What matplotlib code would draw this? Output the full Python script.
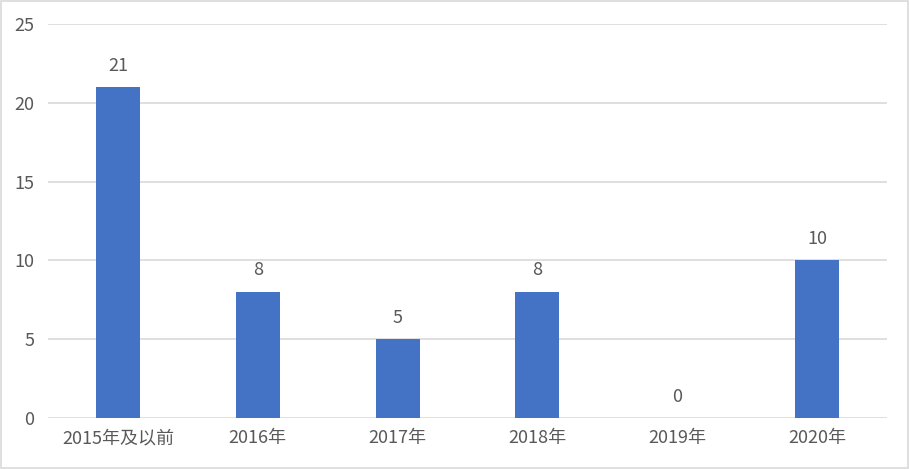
import matplotlib
matplotlib.use('Agg')
import matplotlib.pyplot as plt
from matplotlib.patches import Rectangle

plt.rcParams['font.family'] = ['Noto Sans CJK SC', 'DejaVu Sans']

categories = ['2015年及以前', '2016年', '2017年', '2018年', '2019年', '2020年']
counts = [21, 8, 5, 8, 0, 10]
yticks = [0, 5, 10, 15, 20, 25]

text_color = '#595959'
bar_color = '#4472C4'
grid_color = '#D9D9D9'

fig = plt.figure(figsize=(9.1, 4.69), dpi=100)
ax = fig.add_axes([48 / 910, 1 - 418 / 469, (887 - 48) / 910, (418 - 24) / 469])

x = range(len(categories))
bars = ax.bar(x, counts, width=0.315, color=bar_color, zorder=3)

for xi, v in zip(x, counts):
    ax.annotate(str(v), (xi, v), xytext=(0, 9), textcoords='offset points',
                ha='center', va='bottom', fontsize=13, color=text_color)

ax.set_xlim(-0.5, len(categories) - 0.5)
ax.set_ylim(0, 25)
ax.set_yticks(yticks)
ax.set_xticks(list(x))
ax.set_xticklabels(categories)
ax.tick_params(axis='both', length=0, labelsize=13, labelcolor=text_color)
ax.tick_params(axis='y', pad=10)
ax.tick_params(axis='x', pad=8)

ax.yaxis.grid(True, color=grid_color, linewidth=1.2, zorder=0)
for s in ax.spines.values():
    s.set_visible(False)

fig.patches.append(Rectangle((0.001, 0.002), 0.997, 0.995, transform=fig.transFigure,
                             fill=False, edgecolor=grid_color, linewidth=1.2))

fig.savefig('out.png', dpi=100)
